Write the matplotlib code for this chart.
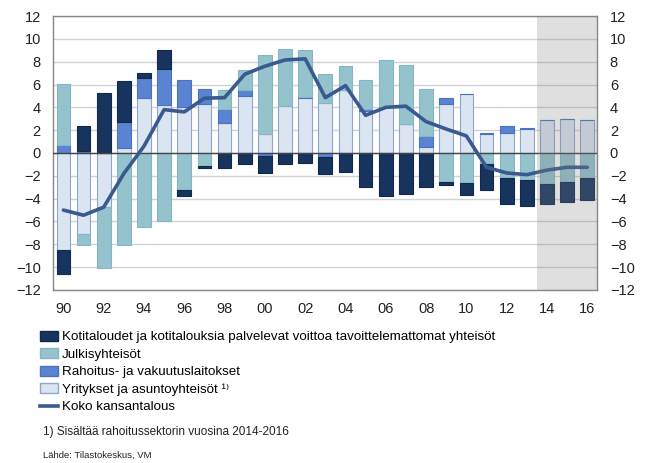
import matplotlib
matplotlib.use("Agg")
import matplotlib.pyplot as plt
import numpy as np
from matplotlib.patches import Patch
from matplotlib.lines import Line2D

plt.rcParams['font.family'] = ['Liberation Sans', 'DejaVu Sans']

# data (% of GDP)
years = list(range(1990, 2017))
xlabels = ['90', '92', '94', '96', '98', '00', '02', '04', '06', '08', '10', '12', '14', '16']

yritykset = [-8.5, -7.1, -4.75, 0.4, 4.8, 4.2, 4.0, 4.3, 2.65, 5.0, 1.65, 4.15, 4.8, 4.35,
             5.55, 3.7, 4.0, 2.5, 0.5, 4.25, 5.15, 1.65, 1.75, 2.1, 2.85, 3.0, 2.85]
rahoitus = [0.7, 0.15, 0.0, 2.35, 1.75, 3.15, 2.4, 1.3, 1.2, 0.55, -0.3, 0.0, 0.1, -0.35,
            0.0, 0.12, 0.0, 0.05, 0.95, 0.55, 0.0, 0.12, 0.6, 0.08, 0.0, 0.0, 0.0]
julkis = [5.35, -0.95, -5.35, -8.1, -6.5, -6.0, -3.25, -1.15, 1.65, 1.7, 6.9, 5.0, 4.15, 2.55,
          2.1, 2.55, 4.15, 5.2, 4.2, -2.55, -2.65, -1.0, -2.15, -2.4, -2.7, -2.55, -2.15]
koti = [-2.1, 2.2, 5.25, 3.55, 0.47, 1.7, -0.5, -0.15, -1.3, -1.0, -1.45, -1.0, -0.9, -1.45,
        -1.65, -2.95, -3.75, -3.6, -2.95, -0.25, -1.0, -2.2, -2.3, -2.2, -1.75, -1.75, -2.0]
koko = [-5.0, -5.45, -4.75, -1.8, 0.6, 3.8, 3.6, 4.8, 4.85, 6.9, 7.6, 8.15, 8.25, 4.85,
        5.9, 3.3, 4.0, 4.1, 2.75, 2.1, 1.5, -1.25, -1.75, -1.9, -1.5, -1.25, -1.25]

labels = ['Yritykset ja asuntoyhteisöt ¹⁾', 'Rahoitus- ja vakuutuslaitokset',
          'Julkisyhteisöt',
          'Kotitaloudet ja kotitalouksia palvelevat voittoa tavoittelemattomat yhteisöt']
colors = ['#dbe4f1', '#5a84d2', '#94c2cd', '#17345f']
edges = ['#8fa6cc', '#4a72bf', '#86b6c3', '#12294c']

fig = plt.figure(figsize=(6.48, 4.63), dpi=100)
ax = fig.add_axes([0.0823, 0.3737, 0.8395, 0.5917])

x = np.arange(len(years))
pos = np.zeros(len(years))
neg = np.zeros(len(years))
for vals, c, e in zip([yritykset, rahoitus, julkis, koti], colors, edges):
    v = np.array(vals)
    bottom = np.where(v >= 0, pos, neg)
    ax.bar(x, v, 0.68, bottom=bottom, color=c, edgecolor=e, linewidth=0.8, zorder=2)
    pos += np.where(v >= 0, v, 0)
    neg += np.where(v < 0, v, 0)

ax.plot(x, koko, color='#39598f', lw=2.6, zorder=4, solid_capstyle='round')

# forecast years shaded
ax.axvspan(23.5, 26.5, color='#808080', alpha=0.25, lw=0, zorder=5)

ax.axhline(0, color='#444444', lw=1, zorder=3)
ax.set_xlim(-0.5, 26.5)
ax.set_ylim(-12, 12)
ax.set_yticks(range(-12, 13, 2))
ax.yaxis.grid(True, color='#d2d2d2', lw=1, zorder=0)
ax.set_axisbelow(True)
ax.set_xticks(x[::2])
ax.set_xticklabels(xlabels)
ax.tick_params(axis='both', length=0, labelsize=10.5, colors='#222222', pad=9)
ax.tick_params(axis='y', labelright=True, pad=9)
for s in ax.spines.values():
    s.set_color('#888888')
    s.set_linewidth(1)

handles = [Patch(facecolor=colors[3], edgecolor=edges[3]),
           Patch(facecolor=colors[2], edgecolor=edges[2]),
           Patch(facecolor=colors[1], edgecolor=edges[1]),
           Patch(facecolor=colors[0], edgecolor=edges[0]),
           Line2D([], [], color='#39598f', lw=2.6)]
leg_labels = [labels[3], labels[2], labels[1], labels[0], 'Koko kansantalous']
fig.legend(handles, leg_labels, loc='upper left', bbox_to_anchor=(0.062, 0.286),
           frameon=False, fontsize=9.6, handlelength=1.3, handleheight=0.8,
           handletextpad=0.3, labelspacing=0.36, borderaxespad=0, borderpad=0)

fig.text(0.066, 0.060, '1) Sisältää rahoitussektorin vuosina 2014-2016', fontsize=8.5, color='#222222')
fig.text(0.066, 0.012, 'Lähde: Tilastokeskus, VM', fontsize=6.8, color='#222222')

fig.savefig('out.png', dpi=100)
